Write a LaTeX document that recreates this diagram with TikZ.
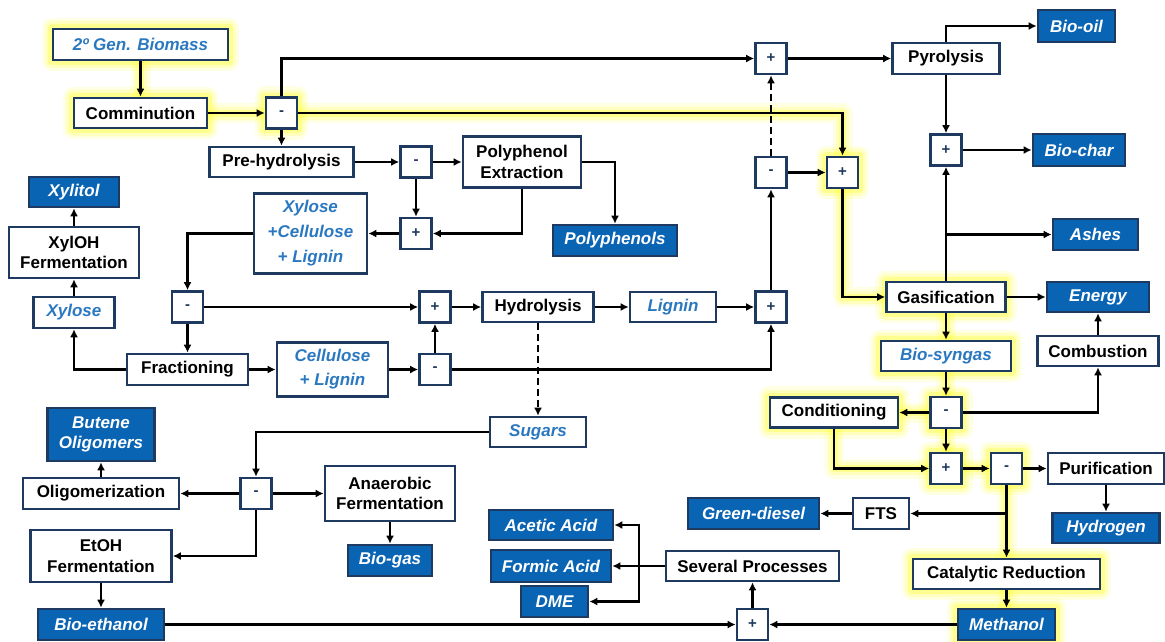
\documentclass[tikz,border=0pt]{standalone}
\usepackage{fontspec}
\setmainfont{Liberation Sans}
\usetikzlibrary{arrows.meta,backgrounds}
\definecolor{navy}{HTML}{1F3A60}
\definecolor{pfill}{HTML}{0A64B4}
\definecolor{ptext}{HTML}{2A78C0}
\definecolor{glowc}{HTML}{FFFF40}
\newcommand\glowit[1]{\draw[gla] #1; \draw[glb] #1; \draw[glc] #1;}
\tikzset{
 base/.style={draw=navy, line width=2.6pt, inner sep=0pt, align=center},
 proc/.style={base, fill=white, text=black, font=\fontsize{17}{20.5}\selectfont\bfseries},
 inter/.style={base, fill=white, text=ptext, font=\fontsize{17}{20.5}\selectfont\bfseries\itshape},
 prod/.style={base, fill=pfill, text=white, font=\fontsize{17}{20.5}\selectfont\bfseries\itshape},
 op/.style={base, fill=white, text=navy, minimum width=31pt, minimum height=31pt, font=\fontsize{15}{15}\selectfont\bfseries},
 sz/.style 2 args={minimum width=#1pt, minimum height=#2pt},
 arr/.style={draw=black, line width=2.3pt, -{Latex[length=8pt,width=8pt]}},
 dsh/.style={dash pattern=on 7pt off 4pt},
 gla/.style={draw=glowc, line width=20pt, opacity=.14, line join=round, line cap=round},
 glb/.style={draw=glowc, line width=13pt, opacity=.22, line join=round, line cap=round},
 glc/.style={draw=glowc, line width=7pt, opacity=.38, line join=round, line cap=round},
}
\begin{document}
\begin{tikzpicture}[x=1pt,y=-1pt]
\useasboundingbox (0,0) rectangle (1165,641);
% nodes
\node[inter, sz={175}{31}] (bio) at (140.5,44.5) {2º Gen. Biomass};
\node[proc, sz={133}{30}] (comm) at (140.5,113) {Comminution};
\node[op] (m1) at (281.5,113) {-};
\node[proc, sz={144}{30}] (prehyd) at (281.5,162) {Pre-hydrolysis};
\node[op] (m2) at (416,162) {-};
\node[proc, sz={118}{51}] (polyext) at (522,162) {Polyphenol\\Extraction};
\node[prod, sz={124}{31}] (polyph) at (615,240.5) {Polyphenols};
\node[op] (p2) at (416,233.5) {+};
\node[inter, sz={113}{80}, font=\fontsize{17}{25}\selectfont\bfseries\itshape] (xcl) at (310.5,233.5) {Xylose\\+Cellulose\\+ Lignin};
\node[prod, sz={90}{30}] (xylitol) at (74,192) {Xylitol};
\node[proc, sz={130}{51}] (xyloh) at (74,252.5) {XylOH\\Fermentation};
\node[inter, sz={81}{31}] (xylose) at (74,312.5) {Xylose};
\node[op] (m3) at (187.5,307) {-};
\node[proc, sz={121}{31}] (frac) at (187.5,369.5) {Fractioning};
\node[inter, sz={111}{54}, font=\fontsize{17}{24}\selectfont\bfseries\itshape] (cl) at (332.5,369.5) {Cellulose\\+ Lignin};
\node[op] (m4) at (435,369.5) {-};
\node[op] (p3) at (435,307) {+};
\node[proc, sz={111}{30}] (hydro) at (538,307) {Hydrolysis};
\node[inter, sz={86}{30}] (lignin) at (673,307) {Lignin};
\node[op] (p4) at (771,307) {+};
\node[op] (m5) at (771,172.5) {-};
\node[op] (p1) at (771,58.5) {+};
\node[op] (p5) at (842.5,172.5) {+};
\node[proc, sz={107}{31}] (pyro) at (946,58.5) {Pyrolysis};
\node[prod, sz={77}{32}] (biooil) at (1076.5,26) {Bio-oil};
\node[op] (p6) at (946,150) {+};
\node[prod, sz={92}{32}] (biochar) at (1079,150) {Bio-char};
\node[prod, sz={85}{31}] (ashes) at (1095.5,234.5) {Ashes};
\node[proc, sz={119}{30}] (gasif) at (946,297) {Gasification};
\node[prod, sz={102}{30}] (energy) at (1098,297) {Energy};
\node[inter, sz={130}{30}] (syngas) at (946,356) {Bio-syngas};
\node[proc, sz={121}{30}] (comb) at (1098,351) {Combustion};
\node[op] (m6) at (946,412.5) {-};
\node[proc, sz={128}{30}] (cond) at (834,412.5) {Conditioning};
\node[op] (p7) at (946,468.5) {+};
\node[op] (m7) at (1006.5,468.5) {-};
\node[proc, sz={116}{31}] (purif) at (1106,468.5) {Purification};
\node[prod, sz={107}{30}] (hydrogen) at (1106,528) {Hydrogen};
\node[proc, sz={56}{31}] (fts) at (881,513.5) {FTS};
\node[prod, sz={131}{31}] (gdiesel) at (753.5,513.5) {Green-diesel};
\node[proc, sz={187}{30}] (catred) at (1006.5,574) {Catalytic Reduction};
\node[prod, sz={97}{31}] (methanol) at (1006.5,624.5) {Methanol};
\node[op] (p8) at (752.5,624.5) {+};
\node[proc, sz={173}{30}] (several) at (752.5,566) {Several Processes};
\node[prod, sz={124}{30}] (acetic) at (551,525) {Acetic Acid};
\node[prod, sz={120}{32}] (formic) at (551,566) {Formic Acid};
\node[prod, sz={67}{31}] (dme) at (554.5,601.5) {DME};
\node[inter, sz={96}{30}] (sugars) at (538,432) {Sugars};
\node[prod, sz={107}{53}] (butene) at (101,434.5) {Butene\\Oligomers};
\node[proc, sz={156}{31}] (oligo) at (101,493.5) {Oligomerization};
\node[op] (m8) at (256,493.5) {-};
\node[proc, sz={130}{55}] (anaer) at (390,493.5) {Anaerobic\\Fermentation};
\node[prod, sz={84}{31}] (biogas) at (390,560.5) {Bio-gas};
\node[proc, sz={141}{52}] (etoh) at (101,556) {EtOH\\Fermentation};
\node[prod, sz={126}{31}] (bioeth) at (101,624.5) {Bio-ethanol};
\coordinate (br) at (639,566);
% glow
\begin{pgfonlayer}{background}
\foreach \n in {bio,comm,m1,p5,gasif,syngas,m6,cond,p7,m7,catred,methanol}{
  \glowit{(\n.south west) rectangle (\n.north east)}
}
\glowit{(bio.south) -- (comm.north)}
\glowit{(comm.east) -- (m1.west)}
\glowit{(m1.east) -| (p5.north)}
\glowit{(p5.south) |- (gasif.west)}
\glowit{(gasif.south) -- (syngas.north)}
\glowit{(syngas.south) -- (m6.north)}
\glowit{(m6.west) -- (cond.east)}
\glowit{(m6.south) -- (p7.north)}
\glowit{(cond.south) |- (p7.west)}
\glowit{(p7.east) -- (m7.west)}
\glowit{(m7.south) -- (catred.north)}
\glowit{(catred.south) -- (methanol.north)}
\end{pgfonlayer}
% connectors
\draw[arr] (bio.south) -- (comm.north);
\draw[arr] (comm.east) -- (m1.west);
\draw[arr] (m1.north) |- (p1.west);
\draw[arr] (m1.south) -- (prehyd.north);
\draw[arr] (m1.east) -| (p5.north);
\draw[arr] (prehyd.east) -- (m2.west);
\draw[arr] (m2.east) -- (polyext.west);
\draw[arr] (m2.south) -- (p2.north);
\draw[arr] (polyext.south) |- (p2.east);
\draw[arr] (polyext.east) -| (polyph.north);
\draw[arr] (p2.west) -- (xcl.east);
\draw[arr] (xcl.west) -| (m3.north);
\draw[arr] (m3.east) -- (p3.west);
\draw[arr] (m3.south) -- (frac.north);
\draw[arr] (frac.west) -| (xylose.south);
\draw[arr] (xylose.north) -- (xyloh.south);
\draw[arr] (xyloh.north) -- (xylitol.south);
\draw[arr] (frac.east) -- (cl.west);
\draw[arr] (cl.east) -- (m4.west);
\draw[arr] (m4.north) -- (p3.south);
\draw[arr] (m4.east) -| (p4.south);
\draw[arr] (p3.east) -- (hydro.west);
\draw[arr] (hydro.east) -- (lignin.west);
\draw[arr] (lignin.east) -- (p4.west);
\draw[arr] (p4.north) -- (m5.south);
\draw[arr, dsh] (m5.north) -- (p1.south);
\draw[arr] (m5.east) -- (p5.west);
\draw[arr] (p5.south) |- (gasif.west);
\draw[arr] (p1.east) -- (pyro.west);
\draw[arr] (pyro.north) |- (biooil.west);
\draw[arr] (pyro.south) -- (p6.north);
\draw[arr] (p6.east) -- (biochar.west);
\draw[arr] (gasif.north) -- (p6.south);
\draw[arr] (gasif.north |- ashes.west) -- (ashes.west);
\draw[arr] (gasif.east) -- (energy.west);
\draw[arr] (gasif.south) -- (syngas.north);
\draw[arr] (syngas.south) -- (m6.north);
\draw[arr] (m6.west) -- (cond.east);
\draw[arr] (m6.east) -| (comb.south);
\draw[arr] (comb.north) -- (energy.south);
\draw[arr] (m6.south) -- (p7.north);
\draw[arr] (cond.south) |- (p7.west);
\draw[arr] (p7.east) -- (m7.west);
\draw[arr] (m7.east) -- (purif.west);
\draw[arr] (purif.south) -- (hydrogen.north);
\draw[arr] (m7.south) -- (catred.north);
\draw[arr] (m7.south |- fts.east) -- (fts.east);
\draw[arr] (fts.west) -- (gdiesel.east);
\draw[arr] (catred.south) -- (methanol.north);
\draw[arr] (methanol.west) -- (p8.east);
\draw[arr] (bioeth.east) -- (p8.west);
\draw[arr] (p8.north) -- (several.south);
\draw[arr] (several.west) -- (formic.east);
\draw[arr] (br) |- (acetic.east);
\draw[arr] (br) |- (dme.east);
\draw[arr, dsh] (hydro.south) -- (sugars.north);
\draw[arr] (sugars.west) -| (m8.north);
\draw[arr] (m8.west) -- (oligo.east);
\draw[arr] (oligo.north) -- (butene.south);
\draw[arr] (m8.east) -- (anaer.west);
\draw[arr] (anaer.south) -- (biogas.north);
\draw[arr] (m8.south) |- (etoh.east);
\draw[arr] (etoh.south) -- (bioeth.north);
\end{tikzpicture}
\end{document}
